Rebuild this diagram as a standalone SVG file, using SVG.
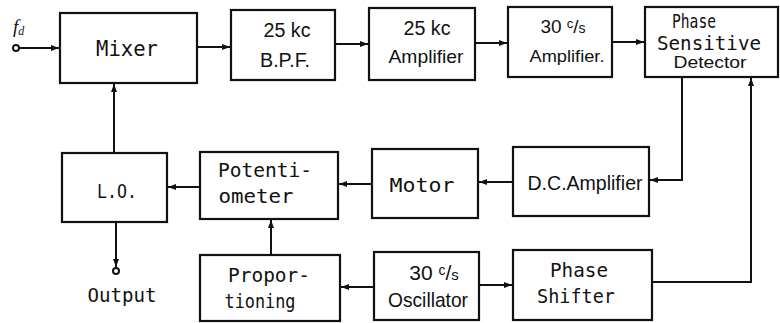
<svg xmlns="http://www.w3.org/2000/svg" width="780" height="323" viewBox="0 0 780 323">
<style>
.box{fill:#fff;stroke:#111;stroke-width:2.2}
.ln{fill:none;stroke:#111;stroke-width:2}
.m{font-family:"DejaVu Sans Mono","Liberation Mono",monospace;fill:#111;text-anchor:middle}
.s{font-family:"Liberation Sans","DejaVu Sans",sans-serif;fill:#111;text-anchor:middle}
</style>
<defs>
<marker id="ah" markerWidth="9" markerHeight="7" refX="8" refY="3.5" orient="auto" markerUnits="userSpaceOnUse">
<path d="M0,0.5 L8,3.5 L0,6.5 z" fill="#111"/>
</marker>
</defs>
<rect width="780" height="323" fill="#fff"/>
<g id="connectors">
<circle cx="16" cy="48" r="3" fill="#fff" stroke="#111" stroke-width="2"/>
<path class="ln" d="M19,48 H59" marker-end="url(#ah)"/>
<path class="ln" d="M197,47 H230" marker-end="url(#ah)"/>
<path class="ln" d="M335,44 H368" marker-end="url(#ah)"/>
<path class="ln" d="M475,43 H507" marker-end="url(#ah)"/>
<path class="ln" d="M612,42 H644" marker-end="url(#ah)"/>
<path class="ln" d="M682,77 V180 H650" marker-end="url(#ah)"/>
<path class="ln" d="M652,282 H751 V78" marker-end="url(#ah)"/>
<path class="ln" d="M513,182 H479" marker-end="url(#ah)"/>
<path class="ln" d="M372,184 H339" marker-end="url(#ah)"/>
<path class="ln" d="M200,187 H168" marker-end="url(#ah)"/>
<path class="ln" d="M114,153 V84" marker-end="url(#ah)"/>
<path class="ln" d="M116,222 V267" marker-end="url(#ah)"/>
<circle cx="116" cy="271" r="3" fill="#fff" stroke="#111" stroke-width="2"/>
<path class="ln" d="M271,255 V220" marker-end="url(#ah)"/>
<path class="ln" d="M374,287 H341" marker-end="url(#ah)"/>
<path class="ln" d="M479,285 H512" marker-end="url(#ah)"/>
</g>
<g id="input-label">
<text x="13" y="33" font-family="Liberation Serif,serif" font-style="italic" font-size="19" fill="#111">f<tspan font-size="12" dy="2">d</tspan></text>
</g>
<g id="mixer">
<rect class="box" x="60" y="13" width="137" height="70"/>
<text class="m" x="127" y="56" font-size="21" textLength="62" lengthAdjust="spacingAndGlyphs">Mixer</text>
</g>
<g id="bpf">
<rect class="box" x="231" y="10" width="104" height="70"/>
<text class="s" x="287" y="37" font-size="20" textLength="47" lengthAdjust="spacingAndGlyphs">25 kc</text>
<text class="s" x="285" y="67" font-size="20" textLength="50" lengthAdjust="spacingAndGlyphs">B.P.F.</text>
</g>
<g id="amp25">
<rect class="box" x="369" y="8" width="106" height="72"/>
<text class="s" x="427" y="35" font-size="20" textLength="47" lengthAdjust="spacingAndGlyphs">25 kc</text>
<text class="s" x="426" y="63" font-size="19" textLength="75" lengthAdjust="spacingAndGlyphs">Amplifier</text>
</g>
<g id="amp30">
<rect class="box" x="508" y="7" width="104" height="70"/>
<text class="s" x="563" y="33" font-size="19">30 <tspan font-size="13" dy="-5">c</tspan><tspan dy="5">/</tspan><tspan font-size="14">s</tspan></text>
<text class="s" x="567" y="62" font-size="17" textLength="75" lengthAdjust="spacingAndGlyphs">Amplifier.</text>
</g>
<g id="psd">
<rect class="box" x="645" y="7" width="133" height="70"/>
<text class="m" x="694" y="28" font-size="19" textLength="44" lengthAdjust="spacingAndGlyphs">Phase</text>
<text class="m" x="709" y="50" font-size="19" textLength="104" lengthAdjust="spacingAndGlyphs">Sensitive</text>
<text class="s" x="710" y="68" font-size="16" textLength="73" lengthAdjust="spacingAndGlyphs">Detector</text>
</g>
<g id="dcamp">
<rect class="box" x="513" y="147" width="136" height="69"/>
<text class="s" x="585" y="190" font-size="20" textLength="115" lengthAdjust="spacingAndGlyphs">D.C.Amplifier</text>
</g>
<g id="motor">
<rect class="box" x="372" y="149" width="106" height="69"/>
<text class="m" x="422" y="192" font-size="20" textLength="65" lengthAdjust="spacingAndGlyphs">Motor</text>
</g>
<g id="pot">
<rect class="box" x="200" y="152" width="138" height="67"/>
<text class="m" x="265" y="177" font-size="19" textLength="94" lengthAdjust="spacingAndGlyphs">Potenti-</text>
<text class="m" x="256" y="203" font-size="19" textLength="75" lengthAdjust="spacingAndGlyphs">ometer</text>
</g>
<g id="lo">
<rect class="box" x="62" y="153" width="105" height="69"/>
<text class="m" x="117" y="198" font-size="19" textLength="40" lengthAdjust="spacingAndGlyphs">L.O.</text>
</g>
<g id="output-label">
<text class="m" x="122" y="302" font-size="19" textLength="69" lengthAdjust="spacingAndGlyphs">Output</text>
</g>
<g id="prop">
<rect class="box" x="200" y="255" width="140" height="66"/>
<text class="m" x="269" y="282" font-size="19" textLength="82" lengthAdjust="spacingAndGlyphs">Propor-</text>
<text class="m" x="260" y="308" font-size="19" textLength="71" lengthAdjust="spacingAndGlyphs">tioning</text>
</g>
<g id="osc">
<rect class="box" x="374" y="252" width="105" height="68"/>
<text class="s" x="434" y="280" font-size="21">30 <tspan font-size="14" dy="-5">c</tspan><tspan dy="5">/</tspan><tspan font-size="15">s</tspan></text>
<text class="s" x="428" y="307" font-size="21" textLength="80" lengthAdjust="spacingAndGlyphs">Oscillator</text>
</g>
<g id="phaseshifter">
<rect class="box" x="513" y="250" width="139" height="70"/>
<text class="m" x="579" y="277" font-size="20" textLength="58" lengthAdjust="spacingAndGlyphs">Phase</text>
<text class="m" x="576" y="303" font-size="20" textLength="78" lengthAdjust="spacingAndGlyphs">Shifter</text>
</g>
</svg>
